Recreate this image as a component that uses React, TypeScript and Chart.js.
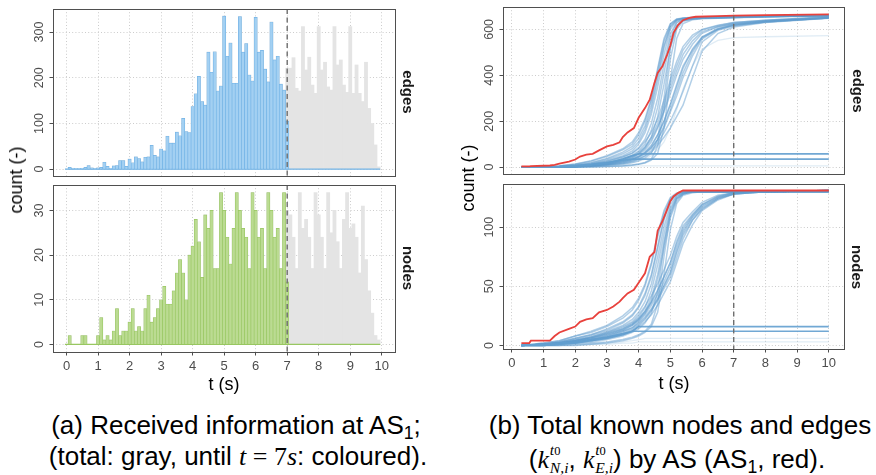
import React, { useEffect, useRef } from "react";
import { Chart, registerables } from "chart.js";

Chart.register(...registerables);

const SANS = '"Liberation Sans", Arial, Helvetica, sans-serif';
const SERIF = '"Liberation Serif", "Times New Roman", serif';

// ---------- histogram data (bins of 0.1 s, centred) ----------
const binCentres = [
  0, 0.1, 0.2, 0.3, 0.4, 0.5, 0.6, 0.7, 0.8, 0.9,
  1, 1.1, 1.2, 1.3, 1.4, 1.5, 1.6, 1.7, 1.8, 1.9,
  2, 2.1, 2.2, 2.3, 2.4, 2.5, 2.6, 2.7, 2.8, 2.9,
  3, 3.1, 3.2, 3.3, 3.4, 3.5, 3.6, 3.7, 3.8, 3.9,
  4, 4.1, 4.2, 4.3, 4.4, 4.5, 4.6, 4.7, 4.8, 4.9,
  5, 5.1, 5.2, 5.3, 5.4, 5.5, 5.6, 5.7, 5.8, 5.9,
  6, 6.1, 6.2, 6.3, 6.4, 6.5, 6.6, 6.7, 6.8, 6.9,
  7, 7.1, 7.2, 7.3, 7.4, 7.5, 7.6, 7.7, 7.8, 7.9,
  8, 8.1, 8.2, 8.3, 8.4, 8.5, 8.6, 8.7, 8.8, 8.9,
  9, 9.1, 9.2, 9.3, 9.4, 9.5, 9.6, 9.7, 9.8, 9.9,
];
const binWidth = 0.1;
const cutoffTime = 7;

const edgesTotal = [
  0, 4, 2, 1, 1, 2, 4, 8, 3, 1,
  3, 4, 15, 6, 2, 7, 8, 19, 19, 6,
  22, 14, 27, 23, 16, 26, 27, 52, 30, 27,
  44, 40, 72, 57, 57, 81, 73, 111, 82, 80,
  137, 165, 203, 148, 140, 256, 212, 257, 171, 182,
  335, 247, 276, 188, 188, 334, 256, 275, 206, 193,
  332, 256, 260, 219, 191, 322, 239, 247, 186, 173,
  221, 221, 244, 177, 171, 312, 217, 245, 184, 166,
  312, 217, 234, 180, 173, 312, 228, 239, 184, 168,
  312, 166, 228, 166, 148, 234, 133, 100, 53, 5,
];
const edgesAtCutoffBin = 105;

const nodesTotal = [
  0, 2, 0, 0, 0, 2, 2, 0, 0, 0,
  2, 6, 1, 2, 1, 3, 8, 2, 3, 3,
  5, 8, 3, 4, 3, 8, 11, 5, 6, 8,
  10, 13, 9, 9, 12, 16, 19, 16, 10, 20,
  22, 28, 23, 15, 29, 26, 30, 17, 17, 34,
  30, 24, 18, 26, 34, 30, 26, 24, 17, 34,
  30, 24, 26, 17, 34, 30, 24, 26, 17, 34,
  30, 29, 24, 17, 34, 26, 28, 24, 17, 34,
  29, 24, 17, 34, 25, 30, 23, 17, 28, 34,
  26, 27, 24, 16, 31, 19, 12, 7, 2, 1,
];
const nodesAtCutoffBin = 14;

// ---------- known nodes / edges per AS ----------
const tAS1 = [0.3, 0.55, 0.6, 1.2, 1.35, 1.5, 1.8, 2.0, 2.15, 2.35, 2.55, 2.75, 3.0, 3.2, 3.4, 3.5, 3.65, 3.85, 4.0, 4.2, 4.35, 4.5, 4.6, 4.75, 4.9, 5.0, 5.1, 5.25, 5.4, 5.6, 5.8, 6.5, 7.0, 8.0, 10.0];
const edgesAS1 = [3, 3, 4, 7, 10, 15, 24, 33, 46, 54, 58, 73, 90, 97, 108, 131, 151, 170, 215, 257, 294, 367, 410, 439, 490, 530, 585, 620, 640, 650, 655, 658, 660, 662, 665];
const nodesAS1 = [2, 2, 4, 4, 8, 11, 14, 16, 20, 22, 23, 28, 30, 33, 37, 40, 44, 47, 53, 61, 75, 79, 97, 105, 115, 122, 126, 129, 131, 131, 131, 131, 131, 131, 131];

const tOther = [0.3, 1.0, 1.5, 2.0, 2.5, 3.0, 3.5, 3.8, 4.0, 4.2, 4.4, 4.6, 4.8, 5.0, 5.2, 5.4, 5.7, 6.0, 6.5, 7.0, 8.0, 10.0];

const edgesOtherAS = [
  [0, 2, 6, 14, 28, 50, 80, 110, 150, 210, 300, 430, 560, 625, 645, 650, 653, 655, 656, 657, 659, 662],
  [0, 1, 4, 10, 20, 38, 65, 90, 125, 180, 270, 400, 530, 615, 642, 648, 651, 653, 655, 656, 658, 662],
  [0, 1, 2, 6, 15, 30, 50, 70, 100, 150, 230, 350, 490, 600, 638, 646, 650, 652, 654, 655, 657, 661],
  [0, 0, 2, 5, 12, 25, 45, 62, 85, 120, 190, 300, 450, 580, 632, 644, 648, 650, 652, 654, 656, 660],
  [0, 0, 1, 4, 10, 20, 38, 52, 70, 100, 160, 260, 410, 560, 628, 642, 646, 649, 651, 653, 656, 660],
  [0, 2, 5, 12, 26, 46, 75, 100, 140, 200, 290, 420, 550, 622, 644, 649, 652, 654, 655, 656, 658, 661],
  [0, 0, 1, 3, 8, 18, 32, 45, 60, 85, 130, 220, 360, 520, 615, 640, 645, 648, 650, 652, 655, 659],
  [0, 1, 3, 8, 18, 34, 58, 80, 110, 165, 250, 380, 520, 610, 640, 647, 650, 652, 654, 655, 657, 661],
  [0, 0, 0, 1, 2, 4, 7, 10, 14, 20, 35, 90, 250, 470, 600, 635, 645, 648, 650, 652, 655, 660],
  [0, 0, 0, 0, 1, 3, 5, 8, 12, 18, 30, 60, 170, 380, 560, 625, 642, 646, 649, 651, 654, 659],
  [0, 0, 1, 2, 4, 8, 14, 20, 28, 40, 60, 120, 300, 520, 615, 638, 645, 648, 650, 652, 655, 660],
  [0, 0, 1, 3, 8, 15, 28, 40, 55, 75, 110, 170, 250, 340, 420, 490, 550, 590, 612, 626, 638, 652],
  [0, 0, 1, 2, 6, 12, 22, 32, 45, 62, 90, 140, 200, 270, 350, 430, 515, 568, 602, 618, 632, 650],
  [0, 1, 2, 5, 10, 20, 35, 48, 65, 90, 130, 190, 270, 360, 440, 510, 565, 598, 616, 630, 640, 655],
  [0, 0, 1, 2, 5, 10, 18, 26, 36, 50, 72, 105, 150, 200, 260, 330, 440, 545, 596, 615, 632, 650],
  [0, 0, 0, 2, 4, 9, 16, 24, 34, 48, 65, 95, 130, 170, 220, 270, 390, 505, 582, 610, 630, 648],
  [0, 1, 2, 4, 9, 18, 30, 42, 58, 82, 120, 175, 240, 320, 400, 470, 535, 583, 611, 625, 636, 652],
  [0, 0, 1, 3, 7, 14, 25, 35, 48, 66, 95, 140, 200, 275, 360, 440, 510, 563, 599, 618, 632, 650],
  [0, 0, 1, 2, 5, 11, 20, 30, 42, 58, 82, 120, 170, 240, 310, 390, 485, 558, 601, 620, 634, 650],
  [0, 1, 3, 7, 14, 26, 44, 60, 80, 110, 150, 210, 290, 380, 460, 525, 575, 600, 618, 630, 640, 655],
  [0, 0, 1, 3, 7, 13, 24, 34, 46, 62, 85, 120, 180, 250, 330, 410, 500, 565, 605, 622, 635, 652],
];
const edgesStalledAS = [
  [0, 0, 1, 3, 8, 15, 35, 50, 58, 58, 58, 58, 58, 58, 58, 58, 58, 58, 58, 58, 58, 58],
  [0, 0, 2, 6, 12, 20, 30, 35, 35, 35, 35, 35, 35, 35, 35, 35, 35, 35, 35, 35, 35, 35],
];
const edgesFaintAS = [
  [0, 0, 0, 1, 3, 6, 12, 18, 25, 35, 50, 75, 110, 170, 250, 340, 440, 515, 552, 564, 568, 573],
  [0, 0, 0, 0, 1, 2, 3, 4, 5, 5, 5, 5, 5, 5, 5, 5, 5, 5, 5, 5, 5, 5],
];

const nodesOtherAS = [
  [0, 2, 4, 8, 11, 16, 23, 30, 38, 50, 68, 92, 112, 124, 128, 130, 130, 130, 130, 130, 130, 131],
  [0, 1, 3, 6, 9, 13, 19, 25, 32, 42, 58, 82, 106, 122, 128, 130, 130, 130, 130, 130, 130, 131],
  [0, 1, 3, 5, 8, 12, 17, 22, 28, 37, 52, 75, 100, 119, 127, 129, 130, 130, 130, 130, 130, 131],
  [0, 1, 2, 5, 7, 11, 15, 19, 24, 32, 46, 68, 94, 116, 126, 129, 130, 130, 130, 130, 130, 131],
  [0, 1, 2, 4, 7, 10, 14, 18, 22, 29, 40, 60, 88, 112, 124, 128, 130, 130, 130, 130, 130, 131],
  [0, 2, 4, 8, 12, 17, 25, 32, 40, 52, 70, 94, 114, 125, 129, 130, 130, 130, 130, 130, 130, 131],
  [0, 1, 2, 4, 6, 9, 13, 17, 21, 27, 37, 56, 82, 108, 122, 128, 130, 130, 130, 130, 130, 131],
  [0, 1, 3, 6, 9, 14, 20, 26, 33, 44, 60, 84, 108, 123, 128, 130, 130, 130, 130, 130, 130, 131],
  [0, 0, 0, 1, 2, 3, 5, 7, 9, 12, 18, 35, 75, 110, 124, 128, 130, 130, 130, 130, 130, 131],
  [0, 0, 0, 0, 1, 2, 4, 6, 8, 11, 16, 28, 60, 98, 120, 127, 129, 130, 130, 130, 130, 131],
  [0, 0, 1, 2, 3, 5, 8, 11, 14, 19, 27, 45, 85, 114, 125, 129, 130, 130, 130, 130, 130, 131],
  [0, 1, 2, 4, 6, 9, 13, 17, 22, 28, 36, 46, 58, 70, 88, 101, 111, 119, 126, 129, 130, 130],
  [0, 1, 2, 3, 5, 8, 12, 15, 19, 24, 31, 40, 51, 62, 80, 95, 108, 117, 125, 128, 130, 130],
  [0, 1, 2, 4, 7, 11, 16, 20, 26, 33, 42, 52, 64, 76, 92, 104, 113, 121, 127, 129, 130, 130],
  [0, 1, 1, 3, 5, 7, 10, 13, 17, 22, 29, 38, 48, 58, 74, 90, 106, 116, 124, 128, 130, 130],
  [0, 0, 1, 3, 4, 6, 9, 12, 16, 20, 26, 34, 44, 54, 70, 86, 102, 114, 123, 128, 130, 130],
  [0, 1, 2, 4, 6, 10, 14, 18, 23, 29, 37, 47, 58, 70, 86, 99, 110, 119, 126, 129, 130, 130],
  [0, 1, 2, 3, 5, 8, 12, 15, 20, 26, 34, 43, 54, 66, 83, 97, 109, 118, 125, 129, 130, 130],
  [0, 0, 1, 2, 4, 7, 11, 14, 18, 23, 30, 39, 50, 61, 78, 93, 106, 115, 124, 128, 130, 130],
];
const nodesStalledAS = [
  [0, 0, 1, 2, 4, 6, 9, 12, 16, 16, 16, 16, 16, 16, 16, 16, 16, 16, 16, 16, 16, 16],
  [0, 1, 2, 3, 5, 7, 10, 12, 12, 12, 12, 12, 12, 12, 12, 12, 12, 12, 12, 12, 12, 12],
];
const nodesFaintAS = [
  [0, 0, 0, 1, 1, 2, 3, 4, 5, 6, 6, 6, 6, 6, 6, 6, 6, 6, 6, 6, 6, 6],
  [0, 0, 0, 0, 1, 1, 2, 2, 3, 3, 3, 3, 3, 3, 3, 3, 3, 3, 3, 3, 3, 3],
];

const xTicks = [0, 1, 2, 3, 4, 5, 6, 7, 8, 9, 10];
const edgesHistTicks = [0, 100, 200, 300];
const nodesHistTicks = [0, 10, 20, 30];
const edgesKnownTicks = [0, 200, 400, 600];
const nodesKnownTicks = [0, 50, 100];

// ---------- helpers ----------
const PAD = { l: 45, t: 6, r: 6, b: 26 };
const snap = (v: number) => Math.round(v - 0.5) + 0.5;

function histDatasets(total: number[], atCutoff: number, fill: string, edge: string) {
  const coloured: any[] = [];
  binCentres.forEach((c, i) => {
    if (c < cutoffTime) coloured.push({ x: c, y: total[i] });
    else if (c === cutoffTime) coloured.push({ x: c, y: atCutoff });
  });
  const base = [
    { x: binCentres[0] - binWidth / 2, y: 0 },
    { x: binCentres[binCentres.length - 1] + binWidth / 2, y: 0 },
  ];
  return [
    {
      type: "bar", data: coloured, backgroundColor: fill, borderColor: edge,
      borderWidth: 0.65, borderSkipped: false, grouped: false,
      barPercentage: 1, categoryPercentage: 1,
    },
    {
      type: "line", data: base, borderColor: edge, borderWidth: 1.2,
      pointRadius: 0, fill: false,
    },
    {
      type: "bar", data: binCentres.map((c, i) => ({ x: c, y: total[i] })),
      backgroundColor: "#e4e4e4", borderWidth: 0, grouped: false,
      barPercentage: 1, categoryPercentage: 1,
    },
  ];
}

function lineDatasets(tRed: number[], red: number[], others: number[][], stalled: number[][], faint: number[][]) {
  const mk = (ys: number[], color: string, w: number, ts: number[]) => ({
    type: "line",
    data: ts.map((t, i) => ({ x: t, y: ys[i] })),
    borderColor: color, borderWidth: w, pointRadius: 0, fill: false, tension: 0,
  });
  return [
    mk(red, "#e8413c", 1.8, tRed),
    ...stalled.map((s) => mk(s, "rgba(98,158,207,0.9)", 1.7, tOther)),
    ...others.map((s) => mk(s, "rgba(94,154,205,0.48)", 1.5, tOther)),
    ...faint.map((s) => mk(s, "rgba(98,158,207,0.2)", 1.3, tOther)),
  ];
}

type Spec = {
  left: number; top: number; right: number; bottom: number;
  xMin: number; xMax: number; yMin: number; yMax: number;
  yTicks: number[]; showX: boolean; type: string; datasets: any[];
};

function makePlugin(p: Spec) {
  return {
    id: "ggpanel",
    beforeDatasetsDraw(chart: any) {
      const { ctx, chartArea: a, scales } = chart;
      const x = scales.x, y = scales.y;
      ctx.save();
      ctx.strokeStyle = "#c6c6c6";
      ctx.lineWidth = 0.9;
      ctx.setLineDash([1, 2.2]);
      xTicks.forEach((v) => {
        const px = snap(x.getPixelForValue(v));
        ctx.beginPath(); ctx.moveTo(px, a.top); ctx.lineTo(px, a.bottom); ctx.stroke();
      });
      p.yTicks.forEach((v) => {
        const py = snap(y.getPixelForValue(v));
        ctx.beginPath(); ctx.moveTo(a.left, py); ctx.lineTo(a.right, py); ctx.stroke();
      });
      ctx.restore();
    },
    afterDatasetsDraw(chart: any) {
      const { ctx, chartArea: a, scales } = chart;
      const x = scales.x, y = scales.y;
      ctx.save();
      ctx.strokeStyle = "#6e6e6e";
      ctx.lineWidth = 1.4;
      ctx.setLineDash([5, 3.5]);
      const cx = x.getPixelForValue(cutoffTime);
      ctx.beginPath(); ctx.moveTo(cx, a.top); ctx.lineTo(cx, a.bottom); ctx.stroke();
      ctx.setLineDash([]);
      ctx.strokeStyle = "#4f4f4f";
      ctx.lineWidth = 1;
      ctx.strokeRect(snap(a.left), snap(a.top), Math.round(a.right - a.left), Math.round(a.bottom - a.top));
      ctx.strokeStyle = "#4d4d4d";
      ctx.fillStyle = "#4d4d4d";
      ctx.font = `12.5px ${SANS}`;
      p.yTicks.forEach((v) => {
        const py = y.getPixelForValue(v);
        ctx.beginPath(); ctx.moveTo(a.left - 3.5, snap(py)); ctx.lineTo(a.left, snap(py)); ctx.stroke();
        ctx.save();
        ctx.translate(a.left - 13, py);
        ctx.rotate(-Math.PI / 2);
        ctx.textAlign = "center";
        ctx.textBaseline = "middle";
        ctx.fillText(String(v), 0, 0);
        ctx.restore();
      });
      if (p.showX) {
        ctx.font = `13px ${SANS}`;
        ctx.textAlign = "center";
        ctx.textBaseline = "middle";
        xTicks.forEach((v) => {
          const px = x.getPixelForValue(v);
          ctx.beginPath(); ctx.moveTo(snap(px), a.bottom); ctx.lineTo(snap(px), a.bottom + 3.5); ctx.stroke();
          ctx.fillText(String(v), px, a.bottom + 14);
        });
      }
      ctx.restore();
    },
  };
}

function Panel({ spec }: { spec: Spec }) {
  const ref = useRef<HTMLCanvasElement>(null);
  const w = spec.right - spec.left + PAD.l + PAD.r;
  const h = spec.bottom - spec.top + PAD.t + PAD.b;
  useEffect(() => {
    const chart = new Chart(ref.current as HTMLCanvasElement, {
      type: spec.type as any,
      data: { datasets: spec.datasets },
      options: {
        animation: false,
        responsive: false,
        maintainAspectRatio: false,
        devicePixelRatio: 1,
        events: [],
        layout: { padding: { left: PAD.l, top: PAD.t, right: PAD.r, bottom: PAD.b } },
        plugins: { legend: { display: false }, tooltip: { enabled: false } },
        scales: {
          x: { type: "linear", display: false, min: spec.xMin, max: spec.xMax, offset: false },
          y: { type: "linear", display: false, min: spec.yMin, max: spec.yMax },
        },
      } as any,
      plugins: [makePlugin(spec)],
    });
    return () => chart.destroy();
  }, []);
  return (
    <canvas
      ref={ref}
      width={w}
      height={h}
      style={{ position: "absolute", left: spec.left - PAD.l, top: spec.top - PAD.t, width: w, height: h }}
    />
  );
}

function Label({ x, y, rot = 0, size, weight = "normal", color = "#000", children }: any) {
  return (
    <div
      style={{
        position: "absolute", left: x, top: y, transform: `translate(-50%, -50%) rotate(${rot}deg)`,
        fontSize: size, fontWeight: weight, color, whiteSpace: "nowrap", lineHeight: 1, fontFamily: SANS,
      }}
    >
      {children}
    </div>
  );
}

function CapLine({ cx, top, children }: any) {
  return (
    <div
      style={{
        position: "absolute", left: cx - 300, width: 600, top, textAlign: "center",
        fontSize: 26, lineHeight: "31px", fontFamily: SANS, color: "#000", whiteSpace: "nowrap",
      }}
    >
      {children}
    </div>
  );
}

const Sub1 = () => <span style={{ fontSize: "0.68em", verticalAlign: "-0.28em" }}>1</span>;

const KScript = ({ sub }: { sub: string }) => (
  <span style={{ fontFamily: SERIF }}>
    <i>k</i>
    <span
      style={{
        display: "inline-block", verticalAlign: "-0.28em", fontSize: "0.6em",
        lineHeight: "1.1", textAlign: "left", marginLeft: "0.05em",
      }}
    >
      <span style={{ display: "block" }}><i>t</i><span style={{ fontSize: "0.8em" }}>0</span></span>
      <span style={{ display: "block" }}><i>{sub}</i></span>
    </span>
  </span>
);

export default function App() {
  const specs: Spec[] = [
    {
      left: 53, top: 9, right: 395, bottom: 176, xMin: -0.43, xMax: 10.42, yMin: -15, yMax: 350.5,
      yTicks: edgesHistTicks, showX: false, type: "bar",
      datasets: histDatasets(edgesTotal, edgesAtCutoffBin, "#a3d0f2", "#72b3e6"),
    },
    {
      left: 53, top: 185, right: 395, bottom: 352, xMin: -0.43, xMax: 10.42, yMin: -1.7, yMax: 35.7,
      yTicks: nodesHistTicks, showX: true, type: "bar",
      datasets: histDatasets(nodesTotal, nodesAtCutoffBin, "#bbdb92", "#98c761"),
    },
    {
      left: 503, top: 7, right: 844, bottom: 174, xMin: -0.28, xMax: 10.48, yMin: -30, yMax: 697.5,
      yTicks: edgesKnownTicks, showX: false, type: "line",
      datasets: lineDatasets(tAS1, edgesAS1, edgesOtherAS, edgesStalledAS, edgesFaintAS),
    },
    {
      left: 503, top: 184, right: 844, bottom: 349, xMin: -0.28, xMax: 10.48, yMin: -3, yMax: 136.5,
      yTicks: nodesKnownTicks, showX: true, type: "line",
      datasets: lineDatasets(tAS1, nodesAS1, nodesOtherAS, nodesStalledAS, nodesFaintAS),
    },
  ];

  return (
    <div style={{ position: "absolute", left: 0, top: 0, width: 876, height: 475, background: "#fff", overflow: "hidden", fontFamily: SANS }}>
      {specs.map((s, i) => <Panel key={i} spec={s} />)}

      <Label x={16} y={180} rot={-90} size={18}>count (-)</Label>
      <Label x={468} y={178} rot={-90} size={18}>count (-)</Label>
      <Label x={224} y={384} size={18}>t (s)</Label>
      <Label x={674} y={383} size={18}>t (s)</Label>

      <Label x={407.5} y={92} rot={90} size={15} weight="bold" color="#1a1a1a">edges</Label>
      <Label x={408} y={268} rot={90} size={15} weight="bold" color="#1a1a1a">nodes</Label>
      <Label x={857.5} y={91} rot={90} size={15} weight="bold" color="#1a1a1a">edges</Label>
      <Label x={857} y={266.5} rot={90} size={15} weight="bold" color="#1a1a1a">nodes</Label>

      <CapLine cx={236} top={410}>(a) Received information at AS<Sub1 />;</CapLine>
      <CapLine cx={238} top={441}>
        (total: gray, until{" "}
        <span style={{ fontFamily: SERIF }}><i>t</i> = 7<i>s</i></span>: coloured).
      </CapLine>
      <CapLine cx={680} top={410}>(b) Total known nodes and edges</CapLine>
      <CapLine cx={677} top={441}>
        (<KScript sub="N,i" />, <KScript sub="E,i" />) by AS (AS<Sub1 />, red).
      </CapLine>
    </div>
  );
}
